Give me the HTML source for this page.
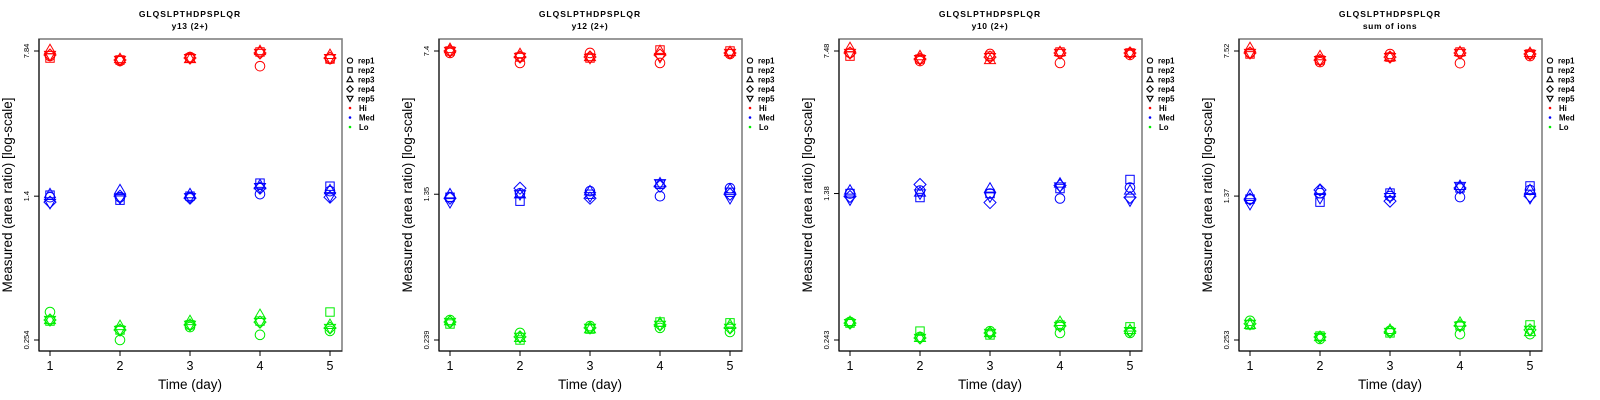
<!DOCTYPE html>
<html><head><meta charset="utf-8">
<style>
html,body{margin:0;padding:0;background:#fff;}
svg{display:block;font-family:"Liberation Sans",sans-serif;}
</style></head>
<body>
<svg id="chart" width="1600" height="400" viewBox="0 0 1600 400"></svg>
<script>
const days = [1,2,3,4,5];
const repNames = ["rep1","rep2","rep3","rep4","rep5"];
const levelNames = ["Hi","Med","Lo"];
const panelTitles = ["y13 (2+)","y12 (2+)","y10 (2+)","sum of ions"];
const peptide = "GLQSLPTHDPSPLQR";
const tickLabels = [["7.84","1.4","0.254"],["7.4","1.35","0.239"],["7.48","1.38","0.243"],["7.52","1.37","0.253"]];
const tickValues = [[7.84,1.4,0.254],[7.4,1.35,0.239],[7.48,1.38,0.243],[7.52,1.37,0.253]];

// panel 1: y13
const p1Hi = [[7.39,6.96,7.30,6.55,7.13],[7.21,7.05,7.21,7.75,7.13],[7.93,7.13,7.13,7.84,7.48],[7.48,7.05,7.21,7.66,7.21],[7.48,7.05,7.21,7.66,7.21]];
const p1Med = [[1.383,1.383,1.383,1.434,1.486],[1.417,1.335,1.40,1.634,1.576],[1.434,1.504,1.434,1.595,1.504],[1.304,1.40,1.367,1.54,1.383],[1.29,1.367,1.383,1.558,1.40]];
const p1Lo = [[0.354,0.254,0.296,0.270,0.283],[0.318,0.286,0.304,0.318,0.354],[0.322,0.300,0.318,0.342,0.304],[0.322,0.286,0.304,0.314,0.293],[0.322,0.286,0.304,0.314,0.293]];
// panel 2: y12
const p2Hi = [[7.23,6.42,7.23,6.42,7.14],[7.40,6.89,6.81,7.49,7.40],[7.58,7.14,6.89,7.40,7.31],[7.40,6.89,6.89,7.06,7.23],[7.40,6.89,6.81,6.89,7.23]];
const p2Med = [[1.303,1.366,1.399,1.319,1.450],[1.303,1.243,1.35,1.520,1.382],[1.35,1.35,1.399,1.538,1.432],[1.288,1.450,1.288,1.485,1.35],[1.228,1.35,1.319,1.538,1.288]];
const p2Lo = [[0.303,0.260,0.282,0.276,0.263],[0.289,0.239,0.272,0.296,0.293],[0.299,0.245,0.272,0.293,0.286],[0.296,0.248,0.276,0.286,0.276],[0.296,0.248,0.276,0.286,0.276]];
// panel 3: y10
const p3Hi = [[7.31,6.64,7.22,6.49,7.14],[7.04,6.80,7.04,7.39,7.31],[7.75,7.04,6.72,7.39,7.31],[7.31,6.80,6.96,7.31,7.31],[7.31,6.80,6.96,7.31,7.31]];
const p3Med = [[1.38,1.430,1.38,1.301,1.482],[1.38,1.316,1.38,1.464,1.630],[1.430,1.397,1.464,1.554,1.430],[1.332,1.536,1.24,1.518,1.316],[1.285,1.38,1.332,1.500,1.269]];
const p3Lo = [[0.301,0.252,0.270,0.264,0.264],[0.297,0.270,0.258,0.290,0.284],[0.301,0.249,0.264,0.301,0.274],[0.297,0.249,0.264,0.287,0.270],[0.297,0.249,0.264,0.287,0.270]];
// panel 4: sum of ions
const p4Hi = [[7.35,6.60,7.26,6.52,7.08],[7.26,6.76,7.00,7.43,7.26],[7.79,7.08,7.00,7.43,7.35],[7.35,6.76,7.00,7.35,7.26],[7.35,6.76,7.00,7.35,7.26]];
const p4Med = [[1.322,1.419,1.37,1.354,1.471],[1.322,1.276,1.419,1.507,1.543],[1.386,1.471,1.419,1.543,1.471],[1.322,1.471,1.291,1.507,1.37],[1.247,1.338,1.354,1.543,1.338]];
const p4Lo = [[0.317,0.256,0.282,0.271,0.271],[0.302,0.265,0.275,0.299,0.302],[0.302,0.262,0.285,0.310,0.278],[0.306,0.262,0.278,0.299,0.285],[0.306,0.262,0.278,0.299,0.285]];

const panelData = [[p1Hi,p1Med,p1Lo],[p2Hi,p2Med,p2Lo],[p3Hi,p3Med,p3Lo],[p4Hi,p4Med,p4Lo]];
const colors = ["#ff0000","#0000ff","#00ee00"];

const NS = "http://www.w3.org/2000/svg";
const svg = document.getElementById("chart");
function mk(tag, attrs, parent, text){
  const e = document.createElementNS(NS, tag);
  for (const k in attrs) e.setAttribute(k, attrs[k]);
  if (text !== undefined) e.textContent = text;
  parent.appendChild(e);
  return e;
}
function marker(g, shape, cx, cy, col){
  const st = {fill:"none", stroke:col, "stroke-width":1};
  let e;
  if (shape===0) e = mk("circle", Object.assign({cx:cx, cy:cy, r:4.8}, st), g);
  else if (shape===1) e = mk("rect", Object.assign({x:cx-4.2, y:cy-4.2, width:8.4, height:8.4}, st), g);
  else if (shape===2) e = mk("polygon", Object.assign({points:`${cx},${cy-5.8} ${cx-5.5},${cy+3.6} ${cx+5.5},${cy+3.6}`}, st), g);
  else if (shape===3) e = mk("polygon", Object.assign({points:`${cx},${cy-6} ${cx+6},${cy} ${cx},${cy+6} ${cx-6},${cy}`}, st), g);
  else e = mk("polygon", Object.assign({points:`${cx},${cy+5.8} ${cx-5.5},${cy-3.6} ${cx+5.5},${cy-3.6}`}, st), g);
  return e;
}
function legendSym(g, shape, cx, cy){
  const st = {fill:"none", stroke:"#000", "stroke-width":1.1};
  if (shape===0) mk("circle", Object.assign({cx:cx, cy:cy, r:2.6}, st), g);
  else if (shape===1) mk("rect", Object.assign({x:cx-2.2, y:cy-2.2, width:4.4, height:4.4}, st), g);
  else if (shape===2) mk("polygon", Object.assign({points:`${cx},${cy-3} ${cx-3},${cy+2.2} ${cx+3},${cy+2.2}`}, st), g);
  else if (shape===3) mk("polygon", Object.assign({points:`${cx},${cy-3.2} ${cx+3.2},${cy} ${cx},${cy+3.2} ${cx-3.2},${cy}`}, st), g);
  else mk("polygon", Object.assign({points:`${cx},${cy+3} ${cx-3},${cy-2.2} ${cx+3},${cy-2.2}`}, st), g);
}

for (let p=0; p<4; p++){
  const ox = p*400;
  const g = mk("g", {transform:`translate(${ox},0)`}, svg);
  
  
  const top = tickValues[p][0], bot = tickValues[p][2];
  const yOf = v => 51 + (Math.log(top)-Math.log(v))/(Math.log(top)-Math.log(bot))*289;
  const xOf = d => 50 + (d-1)*70;

  const t1 = mk("text", {x:190, y:17, "text-anchor":"middle", "font-size":8.5, "font-weight":"bold", "letter-spacing":"1"}, g, peptide);
  
  
  const t2 = mk("text", {x:190, y:29, "text-anchor":"middle", "font-size":8.5, "font-weight":"bold", "letter-spacing":"0.6"}, g, panelTitles[p]);
  
  

  // box
  const box = mk("rect", {x:39, y:39, width:303, height:312, fill:"none", stroke:"#808080", "stroke-width":1.6}, g);
  
  
  mk("line", {x1:39, y1:351, x2:342, y2:351, stroke:"#000", "stroke-width":1}, g);
  mk("line", {x1:39, y1:39, x2:39, y2:351, stroke:"#000", "stroke-width":1}, g);

  // y ticks
  for (let i=0;i<3;i++){
    const y = yOf(tickValues[p][i]);
    mk("line", {x1:34, y1:y, x2:39, y2:y, stroke:"#000", "stroke-width":1}, g);
    const tl = mk("text", {x:0, y:0, transform:`translate(29,${y}) rotate(-90)`, "text-anchor":"middle", "font-size":7.5}, g, tickLabels[p][i]);
    
    
  }
  // x ticks
  days.forEach(d=>{
    const x = xOf(d);
    mk("line", {x1:x, y1:351, x2:x, y2:356, stroke:"#000", "stroke-width":1}, g);
    const tl = mk("text", {x:x, y:370, "text-anchor":"middle", "font-size":12.5}, g, String(d));
    
    
  });
  const xl = mk("text", {x:190, y:389, "text-anchor":"middle", "font-size":13.5}, g, "Time (day)");
  
  
  const yl = mk("text", {x:0, y:0, transform:"translate(12,195) rotate(-90)", "text-anchor":"middle", "font-size":13.5}, g, "Measured (area ratio) [log-scale]");
  
  

  // points
  for (let L=0; L<3; L++){
    const series = panelData[p][L];
    for (let r=0; r<5; r++){
      for (let di=0; di<days.length; di++){
        const m = marker(g, r, xOf(days[di]), yOf(series[r][di]), colors[L]);
        
        
      }
    }
  }

  // legend
  const lg = mk("g", {}, g);
  
  
  for (let r=0;r<5;r++){
    const y = 60.5 + r*9.5;
    legendSym(lg, r, 350, y);
    const lt = mk("text", {x:358, y:y+2.8, "font-size":7.8, "font-weight":"bold"}, lg, repNames[r]);
    
    
  }
  for (let L=0;L<3;L++){
    const y = 60.5 + (5+L)*9.5;
    mk("circle", {cx:350, cy:y, r:1.3, fill:colors[L]}, lg);
    const lt = mk("text", {x:359, y:y+2.8, "font-size":7.8, "font-weight":"bold"}, lg, levelNames[L]);
    
    
  }
}
</script>
</body></html>
